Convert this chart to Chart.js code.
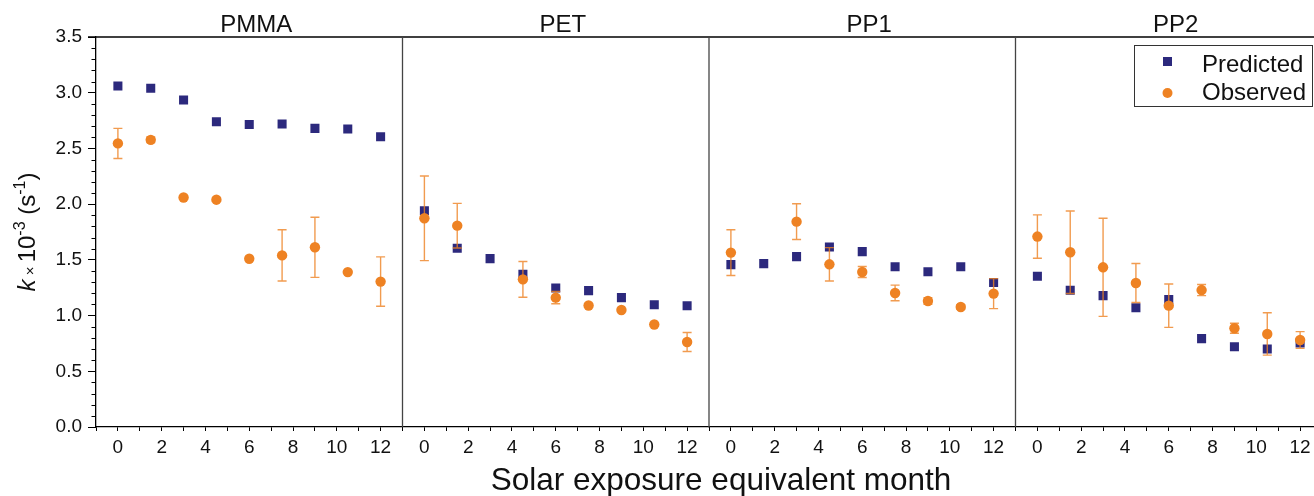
<!DOCTYPE html>
<html>
<head>
<meta charset="utf-8">
<script src="https://cdn.jsdelivr.net/npm/chart.js@4/dist/chart.umd.min.js"></script>
<style>
  html, body { margin: 0; padding: 0; background: #fff; overflow: hidden; }
  #wrap { width: 1314px; height: 496px; overflow: hidden; position: relative; }
  canvas { display: block; }
</style>
</head>
<body>
<div id="wrap"><canvas id="chart" width="1330" height="496"></canvas></div>
<script>
// months of solar exposure for each sample
const months = [0, 1.5, 3, 4.5, 6, 7.5, 9, 10.5, 12];
const xTickLabels = [0, 2, 4, 6, 8, 10, 12];
const panels = ["PMMA", "PET", "PP1", "PP2"];
const seriesNames = ["Predicted", "Observed"];

// k x 10^-3 (s^-1)
const pmmaPredicted = [3.06, 3.04, 2.935, 2.74, 2.715, 2.72, 2.68, 2.675, 2.605];
const pmmaObserved  = [2.545, 2.577, 2.06, 2.04, 1.51, 1.54, 1.613, 1.39, 1.305];
const pmmaError     = [0.135, 0.025, 0, 0, 0, 0.23, 0.27, 0, 0.222];

const petPredicted = [1.94, 1.605, 1.511, 1.37, 1.247, 1.224, 1.161, 1.098, 1.089];
const petObserved  = [1.873, 1.807, null, 1.325, 1.161, 1.09, 1.05, 0.92, 0.763];
const petError     = [0.38, 0.2, 0, 0.16, 0.055, 0, 0.01, 0, 0.085];

const pp1Predicted = [1.457, 1.466, 1.529, 1.615, 1.574, 1.439, 1.394, 1.439, 1.296];
const pp1Observed  = [1.565, null, 1.843, 1.46, 1.391, 1.203, 1.131, 1.077, 1.197];
const pp1Error     = [0.205, 0, 0.16, 0.15, 0.05, 0.07, 0.03, 0.02, 0.135];

const pp2Predicted = [1.352, 1.227, 1.179, 1.071, 1.143, 0.793, 0.721, 0.70, 0.754];
const pp2Observed  = [1.709, 1.568, 1.433, 1.292, 1.089, 1.229, 0.886, 0.835, 0.781];
const pp2Error     = [0.195, 0.37, 0.44, 0.175, 0.195, 0.05, 0.045, 0.19, 0.075];

const predictedSets = [pmmaPredicted, petPredicted, pp1Predicted, pp2Predicted];
const observedSets  = [pmmaObserved, petObserved, pp1Observed, pp2Observed];
const errorSets     = [pmmaError, petError, pp1Error, pp2Error];

const NAVY = "rgb(44,41,125)";
const ORANGE = "rgb(238,130,35)";
const ERR = "rgba(238,130,35,0.8)";
const FONT = "'Liberation Sans', Arial, sans-serif";

const toPoints = (vals) => months.map((m, i) => ({ x: m, y: vals[i] })).filter((p) => p.y !== null);

const datasets = [];
panels.forEach((name, p) => {
  datasets.push({
    label: seriesNames[1],
    xAxisID: "x" + p,
    yAxisID: "y",
    data: toPoints(observedSets[p]),
    errors: errorSets[p].filter((e, i) => observedSets[p][i] !== null),
    pointStyle: "circle",
    pointRadius: 5.2,
    pointBorderWidth: 0,
    backgroundColor: ORANGE,
    borderColor: ORANGE,
    order: 0,
  });
  datasets.push({
    label: seriesNames[0],
    xAxisID: "x" + p,
    yAxisID: "y",
    data: toPoints(predictedSets[p]),
    pointStyle: "rect",
    pointRadius: 6.4,
    pointBorderWidth: 0,
    backgroundColor: NAVY,
    borderColor: NAVY,
    order: 1,
  });
});

const xScale = (p) => ({
  type: "linear",
  position: "bottom",
  stack: "months",
  stackWeight: 1,
  min: -1,
  max: 13,
  afterFit: (s) => { s.height = 69; },
  ticks: {
    stepSize: 1,
    autoSkip: false,
    maxRotation: 0,
    padding: 5,
    color: "#111",
    font: { size: 19, family: FONT },
    callback: (v) => (xTickLabels.includes(v) ? String(v) : ""),
  },
  grid: { drawOnChartArea: false, tickLength: 4, color: "#000" },
  border: { color: "#000", width: 1.3 },
});

// error bars drawn just before each observed dataset
const errorBars = {
  id: "errorBars",
  beforeDatasetDraw(chart, args) {
    const ds = chart.data.datasets[args.index];
    if (!ds.errors) return;
    const xs = chart.scales[ds.xAxisID];
    const ys = chart.scales.y;
    const ctx = chart.ctx;
    ctx.save();
    ctx.strokeStyle = ERR;
    ctx.lineWidth = 1.4;
    ds.data.forEach((pt, i) => {
      const e = ds.errors[i];
      if (!e) return;
      const x = xs.getPixelForValue(pt.x);
      const y1 = ys.getPixelForValue(pt.y + e);
      const y2 = ys.getPixelForValue(pt.y - e);
      ctx.beginPath();
      ctx.moveTo(x, y1); ctx.lineTo(x, y2);
      ctx.moveTo(x - 4.5, y1); ctx.lineTo(x + 4.5, y1);
      ctx.moveTo(x - 4.5, y2); ctx.lineTo(x + 4.5, y2);
      ctx.stroke();
    });
    ctx.restore();
  },
};

// frame, panel titles, minor ticks, axis titles, legend
const decorations = {
  id: "decorations",
  afterDraw(chart) {
    const ctx = chart.ctx;
    const area = chart.chartArea;
    const ys = chart.scales.y;
    ctx.save();

    // top line
    ctx.strokeStyle = "#000";
    ctx.lineWidth = 1.5;
    ctx.beginPath();
    ctx.moveTo(area.left - 8, area.top);
    ctx.lineTo(area.right, area.top);
    ctx.stroke();

    // panel dividers
    ctx.strokeStyle = "#444";
    ctx.lineWidth = 1.3;
    panels.forEach((name, p) => {
      const xs = chart.scales["x" + p];
      if (p < panels.length - 1) {
        ctx.beginPath();
        ctx.moveTo(xs.right, area.top);
        ctx.lineTo(xs.right, area.bottom);
        ctx.stroke();
      }
      // panel title
      ctx.fillStyle = "#111";
      ctx.font = "24px " + FONT;
      ctx.textAlign = "center";
      ctx.textBaseline = "alphabetic";
      ctx.fillText(name, xs.getPixelForValue(6) + 7, 32);
    });

    // minor y ticks
    ctx.strokeStyle = "#000";
    ctx.lineWidth = 1;
    for (let k = 1; k < 35; k++) {
      if (k % 5 === 0) continue;
      const y = Math.round(ys.getPixelForValue(k / 10)) + 0.5;
      ctx.beginPath();
      ctx.moveTo(area.left - 4.5, y);
      ctx.lineTo(area.left, y);
      ctx.stroke();
    }

    // x title
    ctx.fillStyle = "#111";
    ctx.font = "31.5px " + FONT;
    ctx.textAlign = "center";
    ctx.fillText("Solar exposure equivalent month", 721, 490);

    // y title with superscripts
    ctx.save();
    ctx.translate(35, 232);
    ctx.rotate(-Math.PI / 2);
    const parts = [
      { t: "k", f: "italic 24px " + FONT, dy: 0 },
      { t: " \u00d7 ", f: "15px " + FONT, dy: 0 },
      { t: "10", f: "24px " + FONT, dy: 0 },
      { t: "-3", f: "16px " + FONT, dy: -10 },
      { t: " (s", f: "24px " + FONT, dy: 0 },
      { t: "-1", f: "16px " + FONT, dy: -10 },
      { t: ")", f: "24px " + FONT, dy: 0 },
    ];
    let total = 0;
    parts.forEach((pt) => { ctx.font = pt.f; pt.w = ctx.measureText(pt.t).width; total += pt.w; });
    let cx = -total / 2;
    ctx.textAlign = "left";
    parts.forEach((pt) => { ctx.font = pt.f; ctx.fillText(pt.t, cx, pt.dy); cx += pt.w; });
    ctx.restore();

    // legend
    ctx.strokeStyle = "#333";
    ctx.lineWidth = 1;
    ctx.fillStyle = "#fff";
    ctx.fillRect(1134.5, 45.5, 178, 61);
    ctx.strokeRect(1134.5, 45.5, 178, 61);
    ctx.fillStyle = NAVY;
    ctx.fillRect(1163, 57, 9, 9);
    ctx.fillStyle = ORANGE;
    ctx.beginPath();
    ctx.arc(1167.5, 93, 5, 0, Math.PI * 2);
    ctx.fill();
    ctx.fillStyle = "#111";
    ctx.font = "24px " + FONT;
    ctx.textAlign = "left";
    ctx.fillText(seriesNames[0], 1202, 71.5);
    ctx.fillText(seriesNames[1], 1202, 100);

    ctx.restore();
  },
};

document.addEventListener("DOMContentLoaded", () => {
  const ctx = document.getElementById("chart").getContext("2d");
  new Chart(ctx, {
    type: "scatter",
    data: { datasets: datasets },
    options: {
      responsive: false,
      animation: false,
      devicePixelRatio: 1,
      layout: { padding: { top: 37, right: 8, left: 0, bottom: 0 } },
      plugins: { legend: { display: false }, tooltip: { enabled: false } },
      scales: {
        y: {
          type: "linear",
          position: "left",
          min: 0,
          max: 3.5,
          afterFit: (s) => { s.width = 96; },
          ticks: {
            stepSize: 0.5,
            padding: 6,
            color: "#111",
            font: { size: 19, family: FONT },
            callback: (v) => v.toFixed(1),
          },
          grid: { drawOnChartArea: false, tickLength: 8, color: "#000" },
          border: { color: "#000", width: 1.3 },
        },
        x0: xScale(0),
        x1: xScale(1),
        x2: xScale(2),
        x3: xScale(3),
      },
    },
    plugins: [errorBars, decorations],
  });
});
</script>
</body>
</html>
